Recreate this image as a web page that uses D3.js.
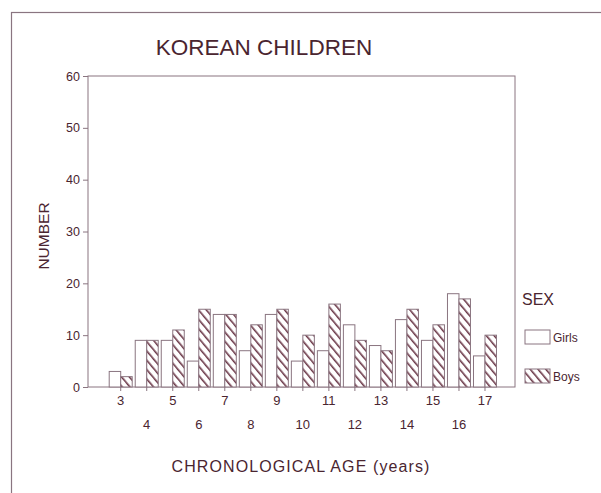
<!DOCTYPE html>
<html>
<head>
<meta charset="utf-8">
<script src="https://cdn.jsdelivr.net/npm/d3@7"></script>
<style>
  body { margin: 0; background: #fff; }
  text { font-family: "Liberation Sans", Arial, sans-serif; fill: #4a2530; }
</style>
</head>
<body>
<svg id="chart" width="601" height="493"></svg>
<script>
// data
const ages = [3, 4, 5, 6, 7, 8, 9, 10, 11, 12, 13, 14, 15, 16, 17];
const girls = [3, 9, 9, 5, 14, 7, 14, 5, 7, 12, 8, 13, 9, 18, 6];
const boys = [2, 9, 11, 15, 14, 12, 15, 10, 16, 9, 7, 15, 12, 17, 10];
const yTicks = [0, 10, 20, 30, 40, 50, 60];

const svg = d3.select('#chart');
const ink = '#4a2530';
const lineCol = '#8a7580';

// pattern for the boys
let defs = svg.append('defs');
let pat = defs.append('pattern')
    .attr('id', 'hatch')
    .attr('patternUnits', 'userSpaceOnUse')
    .attr('width', 6)
    .attr('height', 6)
    .attr('patternTransform', 'rotate(-40)');
pat.append('rect').attr('width', 6).attr('height', 6).attr('fill', '#fff');
pat.append('line')
    .attr('x1', 0).attr('y1', 0).attr('x2', 0).attr('y2', 6)
    .attr('stroke', '#6b3848').attr('stroke-width', 3.2);

// outer frame
svg.append('rect')
    .attr('x', 11.5).attr('y', 12.5)
    .attr('width', 620).attr('height', 500)
    .attr('fill', 'none').attr('stroke', lineCol).attr('stroke-width', 1.2);

let plotL = 88, plotR = 515, plotT = 76, plotB = 387;

let x = d3.scaleBand().domain(ages).range([107.7, 498]);
let y = d3.scaleLinear().domain([0, 60]).range([plotB, plotT]);
let bw = 11.5;

// title
svg.append('text')
    .attr('x', 264).attr('y', 55)
    .attr('text-anchor', 'middle')
    .style('font-size', '22.5px')
    .text('KOREAN CHILDREN');

// plot box
svg.append('rect')
    .attr('x', plotL).attr('y', plotT)
    .attr('width', plotR - plotL).attr('height', plotB - plotT)
    .attr('fill', 'none').attr('stroke', lineCol).attr('stroke-width', 1);

// y axis
let gy = svg.append('g').attr('transform', 'translate(' + plotL + ',0)')
    .call(d3.axisLeft(y).tickValues(yTicks).tickSize(5).tickPadding(3));
gy.select('.domain').remove();
gy.selectAll('line').attr('stroke', lineCol);
gy.selectAll('text').style('font-size', '12.5px').attr('fill', ink);

// x axis ticks + two row labels
let gx = svg.append('g').attr('transform', 'translate(0,' + plotB + ')');
gx.selectAll('line')
    .data(ages)
    .enter().append('line')
    .attr('x1', function(d) { return x(d) + x.bandwidth() / 2; })
    .attr('x2', function(d) { return x(d) + x.bandwidth() / 2; })
    .attr('y1', 0).attr('y2', 4)
    .attr('stroke', lineCol);
gx.selectAll('text')
    .data(ages)
    .enter().append('text')
    .attr('x', function(d) { return x(d) + x.bandwidth() / 2; })
    .attr('y', function(d, i) { return i % 2 == 0 ? 18 : 42; })
    .attr('text-anchor', 'middle')
    .style('font-size', '13px')
    .text(function(d) { return d; });

// bars
let bars = svg.append('g');
bars.selectAll('.girl')
    .data(ages)
    .enter().append('rect')
    .attr('class', 'girl')
    .attr('x', function(d) { return x(d) + x.bandwidth() / 2 - bw; })
    .attr('y', function(d, i) { return y(girls[i]); })
    .attr('width', bw)
    .attr('height', function(d, i) { return y(0) - y(girls[i]); })
    .attr('fill', '#fff').attr('stroke', lineCol).attr('stroke-width', 1);
bars.selectAll('.boy')
    .data(ages)
    .enter().append('rect')
    .attr('class', 'boy')
    .attr('x', function(d) { return x(d) + x.bandwidth() / 2; })
    .attr('y', function(d, i) { return y(boys[i]); })
    .attr('width', bw)
    .attr('height', function(d, i) { return y(0) - y(boys[i]); })
    .attr('fill', 'url(#hatch)').attr('stroke', lineCol).attr('stroke-width', 1);

// axis labels
svg.append('text')
    .attr('transform', 'translate(49,236) rotate(-90)')
    .attr('text-anchor', 'middle')
    .style('font-size', '15.5px')
    .text('NUMBER');
svg.append('text')
    .attr('x', 301).attr('y', 472)
    .attr('text-anchor', 'middle')
    .style('font-size', '16px')
    .style('letter-spacing', '1.1px')
    .text('CHRONOLOGICAL AGE (years)');

// legend
svg.append('text')
    .attr('x', 522).attr('y', 305)
    .style('font-size', '16px')
    .text('SEX');
let legend = [['Girls', '#fff', 330], ['Boys', 'url(#hatch)', 369]];
legend.forEach(function(l) {
    svg.append('rect')
        .attr('x', 525).attr('y', l[2])
        .attr('width', 25).attr('height', 14)
        .attr('fill', l[1]).attr('stroke', lineCol);
    svg.append('text')
        .attr('x', 553).attr('y', l[2] + 12)
        .style('font-size', '12px')
        .text(l[0]);
});
</script>
</body>
</html>
